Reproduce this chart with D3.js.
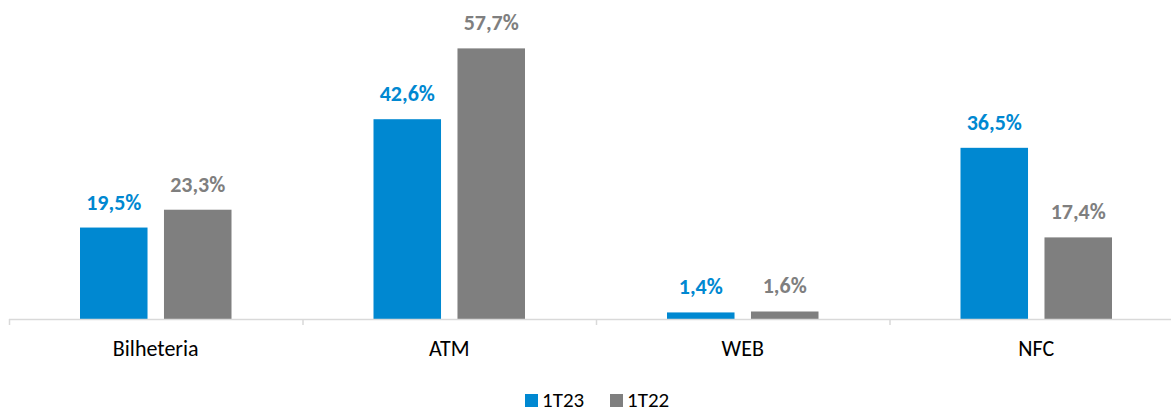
<!DOCTYPE html>
<html><head><meta charset="utf-8">
<script src="https://cdn.jsdelivr.net/npm/d3@7"></script>
<style>
body{margin:0;background:#fff;}
svg{display:block;font-family:Carlito,Calibri,Lato,"Open Sans",sans-serif;}
</style></head>
<body><svg id="c" width="1171" height="412"></svg>
<script>
const categories = ["Bilheteria","ATM","WEB","NFC"];
const seriesNames = ["1T23","1T22"];
const values1T23 = [19.5, 42.6, 1.4, 36.5];
const values1T22 = [23.3, 57.7, 1.6, 17.4];
const colors = ["#0088D1","#7F7F7F"];

const svg = d3.select("#c");
const x = d3.scaleBand().domain(categories).range([9, 1183]).paddingInner(0).paddingOuter(0);
const inner = d3.scaleBand().domain(seriesNames).range([71, 222.5]).paddingInner(0.196);
const y = d3.scaleLinear().domain([0, 60]).range([319, 37.6]);
const fmt = v => d3.format(".1f")(v).replace(".", ",") + "%";

const data = [values1T23, values1T22];
seriesNames.forEach((s, si) => {
  const g = svg.append("g");
  categories.forEach((c, ci) => {
    const v = data[si][ci];
    const bx = x(c) + inner(s);
    g.append("rect").attr("x", bx).attr("y", y(v)).attr("width", inner.bandwidth())
      .attr("height", y(0) - y(v)).attr("fill", colors[si]);
    g.append("text").attr("x", bx + inner.bandwidth()/2).attr("y", y(v) - 18)
      .attr("text-anchor", "middle").attr("font-size", 22).attr("font-weight", "bold")
      .attr("fill", colors[si]).text(fmt(v));
  });
});

// axis
const axis = svg.append("g");
axis.append("line").attr("x1", 9).attr("x2", 1183).attr("y1", 319.5).attr("y2", 319.5)
  .attr("stroke", "#d9d9d9").attr("stroke-width", 1.5);
const edges = categories.map(c => x(c)).concat([x.range()[1]]);
edges.forEach(e => axis.append("line").attr("x1", e + 0.5).attr("x2", e + 0.5)
  .attr("y1", 319).attr("y2", 325).attr("stroke", "#d9d9d9").attr("stroke-width", 1.5));
categories.forEach(c => axis.append("text").attr("x", x(c) + x.bandwidth()/2).attr("y", 356)
  .attr("text-anchor", "middle").attr("font-size", 22).attr("fill", "#000").text(c));

// legend
const legend = svg.append("g");
const legX = [525, 610];
seriesNames.forEach((s, i) => {
  legend.append("rect").attr("x", legX[i]).attr("y", 394).attr("width", 13).attr("height", 13).attr("fill", colors[i]);
  legend.append("text").attr("x", legX[i] + 17).attr("y", 407).attr("font-size", 21).attr("fill", "#000").text(s);
});
</script></body></html>
